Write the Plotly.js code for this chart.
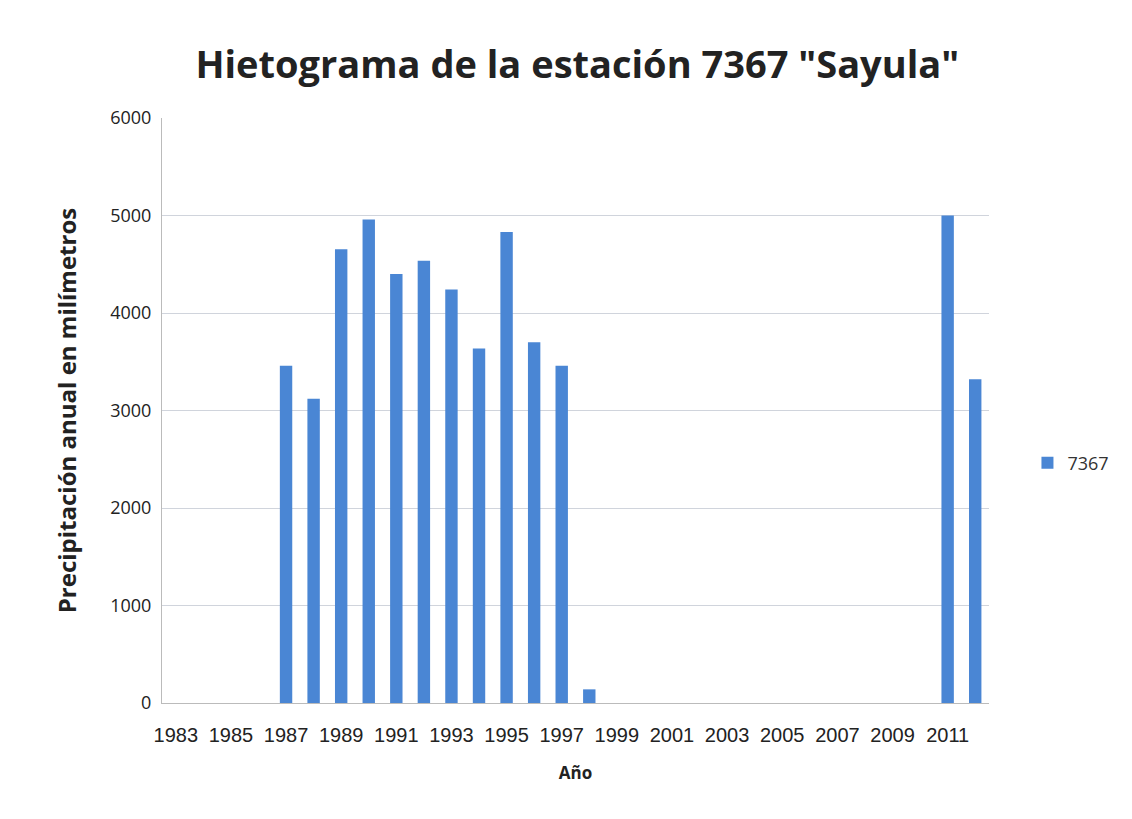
<!DOCTYPE html>
<html>
<head>
<meta charset="utf-8">
<script src="https://cdn.plot.ly/plotly-3.0.1.min.js"></script>
<style>html,body{margin:0;padding:0;background:#fff;}#chart{width:1132px;height:819px;}</style>
</head>
<body>
<div id="chart"></div>
<script>
const years = [1983,1984,1985,1986,1987,1988,1989,1990,1991,1992,1993,1994,1995,1996,1997,1998,1999,2000,2001,2002,2003,2004,2005,2006,2007,2008,2009,2010,2011,2012];
const precip = [null,null,null,null,3460,3120,4655,4960,4400,4535,4240,3635,4830,3700,3460,140,null,null,null,null,null,null,null,null,null,null,null,null,5000,3320];
const seriesName = "7367";
const yTicks = [0,1000,2000,3000,4000,5000,6000];

const trace = {
  type: 'bar', x: years, y: precip, name: seriesName,
  marker: {color: '#4a86d4'}, showlegend: true
};
const layout = {
  width: 1132, height: 819,
  margin: {l: 162, r: 143, t: 118, b: 116, autoexpand: false},
  paper_bgcolor: '#fff', plot_bgcolor: '#fff',
  title: {text: 'Hietograma de la estación 7367 "Sayula"', x: 0.51, xanchor: 'center', y: 0.921, yanchor: 'middle',
    font: {family: 'Open Sans', size: 38, color: '#222', weight: 'bold'}},
  bargap: 0.55,
  xaxis: {type: 'linear', range: [1982.5, 2012.5], tick0: 1983, dtick: 2, showgrid: false,
    showline: true, linecolor: '#bbb', ticks: '', zeroline: false, tickangle: 0, ticklabelstandoff: 14,
    tickfont: {family: 'Liberation Sans', size: 20, color: '#222'},
    title: {text: 'Año', font: {family: 'Open Sans', size: 17, color: '#222', weight: 'bold'}, standoff: 22}},
  yaxis: {range: [0, 6000], tickvals: yTicks, showgrid: true, gridcolor: '#d0d4dc', gridwidth: 1,
    showline: true, linecolor: '#bbb', zeroline: false, ticks: '', ticklabelstandoff: 6,
    tickfont: {family: 'Open Sans', size: 18, color: '#222'},
    title: {text: 'Precipitación anual en milímetros', font: {family: 'Open Sans', size: 24, color: '#222', weight: 'bold'}, standoff: 26}},
  legend: {x: 1.0465, y: 0.41, xanchor: 'left', yanchor: 'middle', font: {family: 'Open Sans', size: 18, color: '#333'}, itemwidth: 30}
};
Plotly.newPlot('chart', [trace], layout, {displayModeBar: false, staticPlot: true});
</script>
</body>
</html>
